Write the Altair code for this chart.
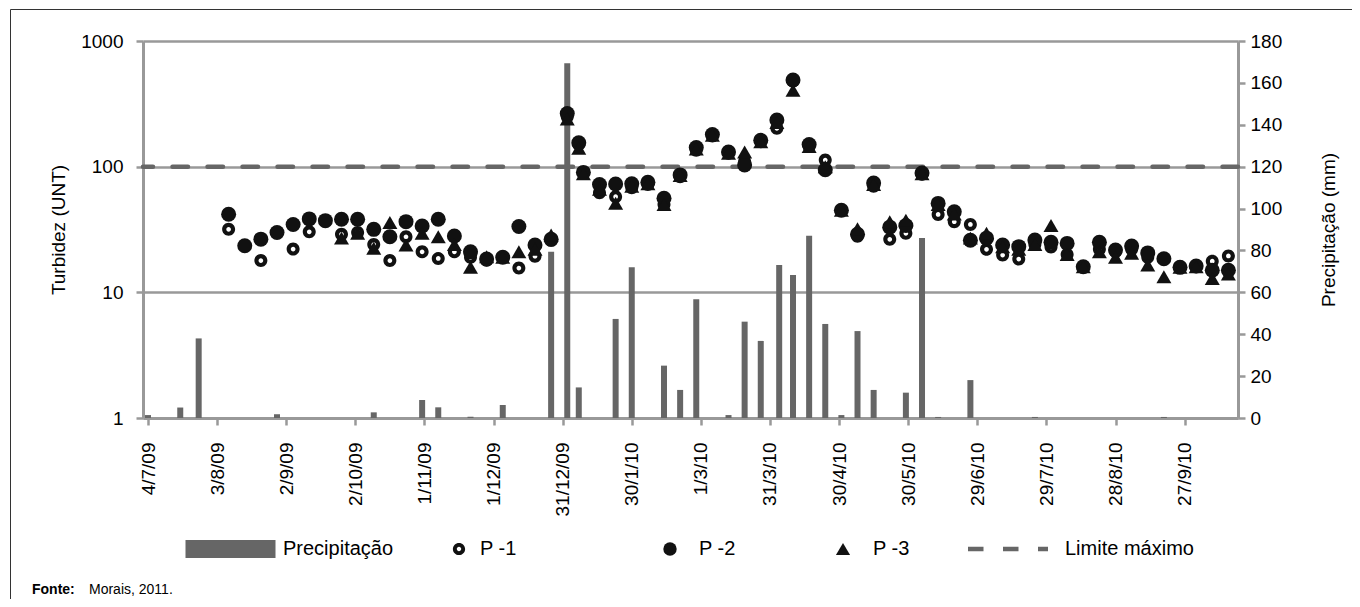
import altair as alt
import pandas as pd

# ---------------- data ----------------
SAMPLE_DATES = [
    "2009-08-08", "2009-08-15", "2009-08-22", "2009-08-29", "2009-09-05", "2009-09-12",
    "2009-09-19", "2009-09-26", "2009-10-03", "2009-10-10", "2009-10-17", "2009-10-24",
    "2009-10-31", "2009-11-07", "2009-11-14", "2009-11-21", "2009-11-28", "2009-12-05",
    "2009-12-12", "2009-12-19", "2009-12-26", "2010-01-02", "2010-01-07", "2010-01-09",
    "2010-01-16", "2010-01-23", "2010-01-30", "2010-02-06", "2010-02-13", "2010-02-20",
    "2010-02-27", "2010-03-06", "2010-03-13", "2010-03-20", "2010-03-27", "2010-04-03",
    "2010-04-10", "2010-04-17", "2010-04-24", "2010-05-01", "2010-05-08", "2010-05-15",
    "2010-05-22", "2010-05-29", "2010-06-05", "2010-06-12", "2010-06-19", "2010-06-26",
    "2010-07-03", "2010-07-10", "2010-07-17", "2010-07-24", "2010-07-31", "2010-08-07",
    "2010-08-14", "2010-08-21", "2010-08-28", "2010-09-04", "2010-09-11", "2010-09-18",
    "2010-09-25", "2010-10-02", "2010-10-09", "2010-10-16",
]
P1 = [31.7, 23.5, 17.9, 30, 22.1, 30.3, 37, 29, 30, 24, 17.9, 27.7, 21, 18.6, 21, 19, 18,
      19, 15.6, 19.4, 26, 250, 150, 90, 62, 57.7, 68, 72, 50, 83, 135, 175, 128, 110, 158,
      202, 480, 145, 113, 45, 28, 70, 26.4, 29.5, 87, 41.7, 36.5, 34.7, 22, 19.8, 18.4, 24,
      23, 20, 16, 22, 21, 22, 19, 18.6, 16, 16, 17.7, 19.5]
P2 = [41.8, 23.5, 26.5, 29.9, 34.7, 38.4, 37.2, 38.2, 38.2, 31.7, 27.7, 36.5, 33.7, 38.2,
      28.1, 21, 18.4, 19, 33.4, 23.8, 26.4, 265, 155, 90, 72, 72.8, 73, 75, 56, 86, 142, 180,
      131, 103, 162, 235, 490, 150, 94.5, 45, 29, 74, 33, 34, 89, 51, 43.7, 26, 27, 23.8,
      23.1, 26.1, 25, 24.5, 16, 25, 21.7, 23.4, 20.6, 18.5, 15.8, 16.2, 15, 15]
P3 = [None, None, None, None, None, None, None, 27, 29.5, 22.4, 35.9, 23.8, 29.5, 27.7, 24,
      15.8, 19.2, 19, 21, 22, 28.6, 240, 140, 88, 66, 51.2, 70, 73, 50, 85, 138, 178, 128,
      131, 158, 225, 406, 145, 100, 45, 32, 72, 36.5, 37.5, 88, 50, 42, 27, 29.5, 23, 22,
      24, 34, 20, 16, 21, 19, 20.5, 16.5, 13.3, 15.8, 16, 12.9, 14]

PRECIP_DATES = [
    "2009-07-04", "2009-07-18", "2009-07-26", "2009-08-29", "2009-10-10", "2009-10-31",
    "2009-11-07", "2009-11-21", "2009-12-05", "2009-12-26", "2010-01-02", "2010-01-07",
    "2010-01-23", "2010-01-30", "2010-02-13", "2010-02-20", "2010-02-27", "2010-03-13",
    "2010-03-20", "2010-03-27", "2010-04-04", "2010-04-10", "2010-04-17", "2010-04-24",
    "2010-05-01", "2010-05-08", "2010-05-15", "2010-05-29", "2010-06-05", "2010-06-12",
    "2010-06-26", "2010-07-24", "2010-09-18",
]
PRECIP_MM = [1.4, 5, 38, 1.8, 2.7, 8.6, 5.1, 0.6, 6.2, 79.4, 169.4, 14.6, 47.3, 72, 25,
             13.4, 56.7, 1.4, 46, 36.8, 73, 68.3, 87, 44.9, 1.4, 41.5, 13.4, 12.1, 86, 0.5,
             18.1, 0.5, 0.5]

TICK_DATES = ["2009-07-04", "2009-08-03", "2009-09-02", "2009-10-02", "2009-11-01",
              "2009-12-01", "2009-12-31", "2010-01-30", "2010-03-01", "2010-03-31",
              "2010-04-30", "2010-05-30", "2010-06-29", "2010-07-29", "2010-08-28",
              "2010-09-27"]
X_DOMAIN = ["2009-07-04", "2010-10-18"]
LEFT_TICKS = [1, 10, 100, 1000]
RIGHT_TICKS = [0, 20, 40, 60, 80, 100, 120, 140, 160, 180]
LIMIT = 100
SERIES = ["P -1", "P -2", "P -3"]
FONT = "Liberation Sans"
# open-circle (ring) symbol: outer circle clockwise, inner circle counter-clockwise
RING = ("M-1,0A1,1,0,1,1,1,0A1,1,0,1,1,-1,0Z"
        "M-0.36,0A0.36,0.36,0,1,0,0.36,0A0.36,0.36,0,1,0,-0.36,0Z")


def ms(d):
    return int(pd.Timestamp(d, tz="UTC").value // 10**6)


x_enc = alt.X(
    "date:T", title=None,
    scale=alt.Scale(type="utc", domain=[ms(d) for d in X_DOMAIN], nice=False),
    axis=alt.Axis(values=[ms(d) for d in TICK_DATES],
                  labelExpr="utcFormat(datum.value, '%-d/%-m/%y')",
                  labelAngle=270, labelFontSize=19, labelPadding=17,
                  grid=False, domainColor="#999999", domainWidth=3,
                  tickColor="#999999", tickWidth=2.5, tickSize=7),
)
log_scale = alt.Scale(type="log", domain=[1, 1000], nice=False)

# ---------------- precipitation bars (right axis) ----------------
df_prec = pd.DataFrame({"date": PRECIP_DATES, "mm": PRECIP_MM,
                        "serie": "Precipitação", "fonte": "Morais, 2011.", "frame": "f"})
bars = alt.Chart(df_prec).mark_bar(size=6, strokeWidth=0).encode(
    x=x_enc,
    y=alt.Y("mm:Q", scale=alt.Scale(domain=[0, 180], nice=False),
            axis=alt.Axis(orient="right", values=RIGHT_TICKS, title="Precipitação (mm)",
                          grid=False, domainColor="#999999", domainWidth=3,
                          tickColor="#999999", tickWidth=2.5, tickSize=7,
                          labelFontSize=19, labelPadding=5, titleFontSize=19,
                          titleAngle=270, titleX=90, titleBaseline="middle")),
    fill=alt.Fill("serie:N", scale=alt.Scale(domain=["Precipitação"], range=["#666666"]),
                  legend=alt.Legend(orient="none", legendX=42.5, legendY=463, title=None,
                                    symbolType="M-1,-0.2H1V0.2H-1Z", symbolSize=8100,
                                    symbolStrokeWidth=0, labelOffset=7.5, labelFontSize=20,
                                    padding=0)),
    stroke=alt.Stroke("fonte:N", scale=alt.Scale(range=["#666666"]),
                      legend=alt.Legend(orient="none", legendX=-111, legendY=542,
                                        title="Fonte:", titleOrient="left",
                                        titleFontWeight="bold", titleFontSize=14,
                                        titlePadding=0, labelFontSize=14, symbolSize=0,
                                        symbolOpacity=0, labelOffset=0, padding=0)),
    strokeDash=alt.StrokeDash("frame:N", scale=alt.Scale(range=[[1, 0]]),
                              legend=alt.Legend(orient="none", legendX=-133, legendY=-32,
                                                title=None, padding=700,
                                                strokeColor="#333333", labelExpr="''",
                                                labelOpacity=0, symbolOpacity=0)),
)

# ---------------- limit line ----------------
df_lim = pd.DataFrame({"v": [LIMIT], "serie": ["Limite máximo"]})
rule = alt.Chart(df_lim).mark_rule(color="#666666", strokeWidth=4.5, strokeCap="round").encode(
    y=alt.Y("v:Q", scale=log_scale),
    strokeDash=alt.StrokeDash("serie:N", scale=alt.Scale(domain=["Limite máximo"],
                                                          range=[[15.5, 19.5]]),
                              legend=alt.Legend(orient="none", legendX=822.5, legendY=465.5,
                                                title=None, symbolType="stroke",
                                                symbolSize=6400, symbolStrokeWidth=4.5,
                                                symbolStrokeColor="#666666",
                                                symbolDash=[11, 6], labelOffset=14.5,
                                                labelFontSize=20, padding=0)),
)


def series_layer(values, name, shape, mark_kw, legend_kw):
    df = pd.DataFrame({"date": SAMPLE_DATES, "ntu": values, "serie": name}).dropna()
    return alt.Chart(df).mark_point(opacity=1, filled=True, color="#111111",
                                    strokeWidth=0, **mark_kw).encode(
        x=x_enc,
        y=alt.Y("ntu:Q", scale=log_scale),
        shape=alt.Shape("serie:N", scale=alt.Scale(domain=[name], range=[shape]),
                        legend=alt.Legend(orient="none", title=None, labelFontSize=20,
                                          padding=0, symbolStrokeWidth=0,
                                          symbolFillColor="#111111", **legend_kw)),
    )


p1 = series_layer(P1, SERIES[0], RING, dict(size=169),
                  dict(legendX=306, legendY=498, symbolSize=150, labelOffset=11))
p2 = series_layer(P2, SERIES[1], "circle", dict(size=225),
                  dict(legendX=517, legendY=498, symbolSize=180, labelOffset=19))
p3 = series_layer(P3, SERIES[2], "triangle-up", dict(size=225),
                  dict(legendX=690, legendY=498, symbolSize=200, labelOffset=20))

# left axis carried by the first turbidity layer
p1 = p1.encode(y=alt.Y("ntu:Q", scale=log_scale,
                       axis=alt.Axis(orient="left", values=LEFT_TICKS, format="d",
                                     title="Turbidez (UNT)", grid=True,
                                     gridColor="#999999", gridWidth=2.5,
                                     domainColor="#999999", domainWidth=3,
                                     tickColor="#999999", tickWidth=2.5, tickSize=7,
                                     labelFontSize=19, labelPadding=13, titleFontSize=19,
                                     titleX=-85, titleBaseline="middle")))

turb = alt.layer(rule, p1, p2, p3).resolve_scale(shape="independent", strokeDash="independent")

chart = alt.layer(bars, turb).resolve_scale(
    y="independent", shape="independent", strokeDash="independent"
).properties(
    width=1095, height=377,
    autosize=alt.AutoSizeParams(type="none"),
    padding={"left": 135, "top": 33, "right": 114, "bottom": 181},
).configure_axis(
    labelFont=FONT, titleFont=FONT, labelColor="#000000", titleColor="#000000",
    titleFontWeight="normal",
).configure_legend(
    labelFont=FONT, titleFont=FONT, labelColor="#000000", titleColor="#000000",
).configure_view(strokeWidth=0)

chart.save("out.html", embed_options={"renderer": "svg", "actions": False})
